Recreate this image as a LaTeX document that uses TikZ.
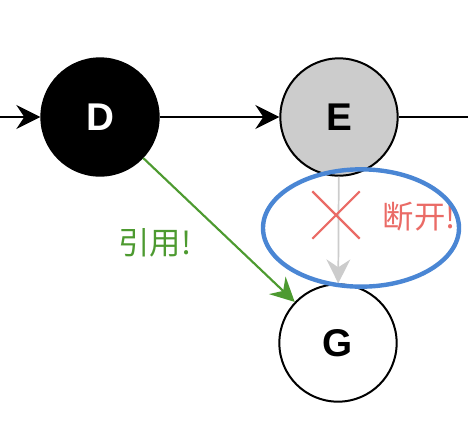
\documentclass[tikz,border=0pt]{standalone}
\usepackage{fontspec}
\setmainfont{Liberation Sans}
\newfontfamily\cjk{Noto Sans CJK SC}
\usetikzlibrary{arrows.meta, positioning, shapes.geometric, shapes.misc}
\definecolor{refGreen}{HTML}{4D9A30}
\definecolor{cutRed}{HTML}{EA6B66}
\definecolor{ringBlue}{HTML}{4A86D4}
\definecolor{nodeGrey}{HTML}{CCCCCC}

\begin{document}
\begin{tikzpicture}[x=0.75pt, y=-0.75pt,
    obj/.style={circle, draw=black, line width=1.5pt, minimum size=88pt,
                inner sep=0pt, font=\fontsize{29}{30}\selectfont\bfseries},
    link/.style={line width=1.5pt, -{Stealth[length=18pt, width=18pt, inset=6pt, fill=#1]}},
    link/.default=black,
    note/.style={font=\cjk\fontsize{23.5}{25}\selectfont},
  ]
    \useasboundingbox (0,0) rectangle (468,444);
    % nodes
    \node[obj, fill=black, text=white] (d) at (100,117) {D};
    \node[obj, fill=nodeGrey] (e) at (339,117) {E};
    \node[obj, fill=white] (g) at (338,343) {G};
    \coordinate (in) at (0,117);
    \coordinate (out) at (468,117);
    % chain
    \draw[link] (in) -- (d);
    \draw[link] (d) -- (e);
    \draw[line width=1.5pt] (e) -- (out);
    % broken link
    \draw[link=nodeGrey, draw=nodeGrey, line width=1.3pt] (e) -- (g);
    \node[cross out, draw=cutRed, line width=1.6pt, minimum size=34pt] (cut) at (336,215) {};
    \node[note, text=cutRed, anchor=west] (cutlabel) at (378,217) {断开!};
    \node[ellipse, draw=ringBlue, line width=3.3pt, minimum width=147pt,
          minimum height=88pt] (ring) at (361,228) {};
    % new reference
    \draw[link=refGreen, draw=refGreen, line width=1.6pt] (d) -- (g);
    \node[note, text=refGreen] (reflabel) at (155,243) {引用!};
  \end{tikzpicture}
\end{document}
